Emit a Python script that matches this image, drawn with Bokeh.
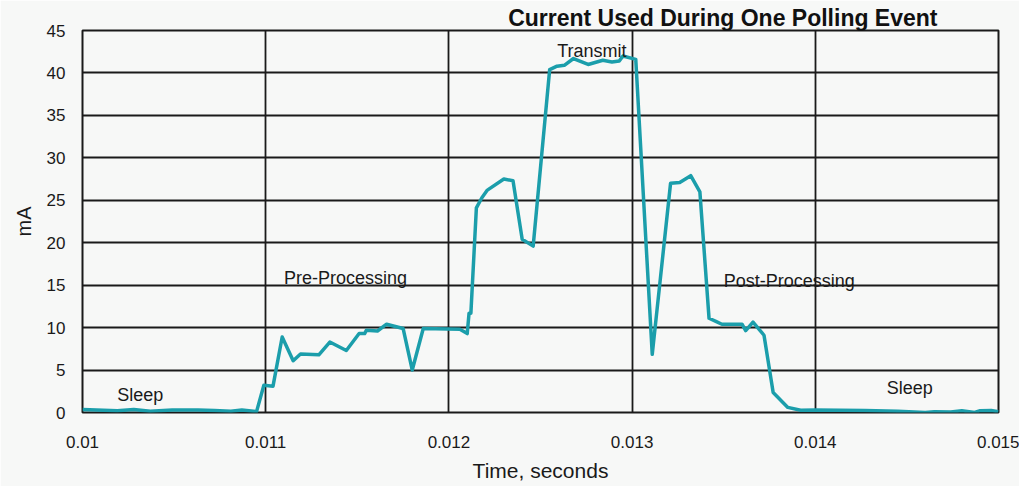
from bokeh.plotting import figure
from bokeh.models import Range1d, FixedTicker, Label, Title
from bokeh.embed import file_html
from bokeh.resources import INLINE

# ---------------- data ----------------
time_s = [
    0.01000, 0.01019, 0.01028, 0.01037, 0.01049, 0.01063, 0.01072, 0.01081, 0.01087, 0.01095,
    0.01099, 0.01104, 0.01109, 0.01115, 0.01119, 0.01129, 0.01135, 0.01144, 0.01151, 0.01154, 0.01155,
    0.01161, 0.01166, 0.01175, 0.01180, 0.01186, 0.01206, 0.01210, 0.01211, 0.01212,
    0.01215, 0.01218, 0.01221, 0.01230, 0.01235, 0.01240, 0.01246,
    0.01255, 0.01259, 0.01263, 0.01268, 0.01276, 0.01284, 0.01289, 0.01293, 0.01295, 0.01302,
    0.01311, 0.01321, 0.01326, 0.01332, 0.01337, 0.01342, 0.01346, 0.01349, 0.01360, 0.01362, 0.01366, 0.01372,
    0.01377, 0.01385, 0.01392, 0.01400, 0.01427, 0.01445, 0.01460, 0.01465, 0.01474, 0.01480, 0.01487, 0.01490, 0.01496, 0.01500,
]
current_mA = [
    0.35, 0.2, 0.35, 0.15, 0.3, 0.3, 0.25, 0.15, 0.3, 0.1,
    3.2, 3.1, 8.9, 6.1, 6.9, 6.8, 8.3, 7.3, 9.3, 9.3, 9.7,
    9.6, 10.4, 9.9, 5.0, 9.9, 9.8, 9.3, 11.7, 11.7,
    24.1, 25.3, 26.2, 27.5, 27.3, 20.4, 19.6,
    40.4, 40.8, 40.9, 41.7, 41.0, 41.5, 41.3, 41.4, 42.0, 41.6,
    6.85, 27.0, 27.1, 27.9, 26.0, 11.1, 10.7, 10.4, 10.4, 9.65, 10.65, 9.1,
    2.35, 0.6, 0.26, 0.3, 0.24, 0.15, 0.0, 0.1, 0.07, 0.2, 0.0, 0.22, 0.24, 0.08,
]

x_ticks = [0.010, 0.011, 0.012, 0.013, 0.014, 0.015]
x_tick_labels = ["0.01", "0.011", "0.012", "0.013", "0.014", "0.015"]
y_ticks = [0, 5, 10, 15, 20, 25, 30, 35, 40, 45]

phase_labels = ["Sleep", "Pre-Processing", "Transmit", "Post-Processing", "Sleep"]

title_text = "Current Used During One Polling Event"
x_label = "Time, seconds"
y_label = "mA"

# ---------------- layout / style ----------------
FONT = "Liberation Sans"
BG = "#f7f8f7"
INK = "#1a1a1a"
TEAL = "#1b9eab"

label_pos = [  # (x, y, align) in data units
    (0.01019, 2.1, "left"),
    (0.01110, 15.85, "left"),
    (0.01297, 42.6, "right"),
    (0.01350, 15.5, "left"),
    (0.01439, 2.9, "left"),
]

p = figure(
    width=1019, height=486,
    output_backend="svg", toolbar_location=None,
    x_range=Range1d(x_ticks[0], x_ticks[-1]),
    y_range=Range1d(y_ticks[0], y_ticks[-1]),
    min_border_left=82, min_border_right=21, min_border_top=30, min_border_bottom=74,
    background_fill_color=BG, border_fill_color=BG,
)
p.title = Title(text=title_text, align="right", offset=61, standoff=0,
                text_font=FONT, text_font_size="23px", text_font_style="bold",
                text_color="#111111")
p.outline_line_color = INK
p.outline_line_width = 2

for ax in (p.xaxis[0], p.yaxis[0]):
    ax.axis_line_color = None
    ax.major_tick_line_color = None
    ax.minor_tick_line_color = None
    ax.major_tick_out = 0
    ax.major_tick_in = 0
    ax.major_label_text_font = FONT
    ax.major_label_text_font_size = "17px"
    ax.major_label_text_color = INK
    ax.axis_label_text_font = FONT
    ax.axis_label_text_font_style = "normal"
    ax.axis_label_text_color = INK

p.xaxis.ticker = FixedTicker(ticks=x_ticks)
p.xaxis.major_label_overrides = dict(zip(x_ticks, x_tick_labels))
p.xaxis.major_label_standoff = 23
p.xaxis.axis_label = x_label
p.xaxis.axis_label_text_font_size = "21px"
p.xaxis.axis_label_standoff = 8

p.yaxis.ticker = FixedTicker(ticks=y_ticks)
p.yaxis.major_label_standoff = 17
p.yaxis.axis_label = y_label
p.yaxis.axis_label_text_font_size = "20px"
p.yaxis.axis_label_standoff = 9

p.xgrid.ticker = FixedTicker(ticks=x_ticks)
p.ygrid.ticker = FixedTicker(ticks=y_ticks)
for g in (p.xgrid[0], p.ygrid[0]):
    g.grid_line_color = INK
    g.grid_line_width = 1.8
    g.grid_line_alpha = 1.0

p.line(time_s, current_mA, line_color=TEAL, line_width=3.5, line_join="round")

for text, (lx, ly, al) in zip(phase_labels, label_pos):
    p.add_layout(Label(x=lx, y=ly, text=text, text_align=al, text_baseline="alphabetic",
                       text_font=FONT, text_font_size="18px", text_color=INK))

open("out.html", "w").write(file_html(p, INLINE))
